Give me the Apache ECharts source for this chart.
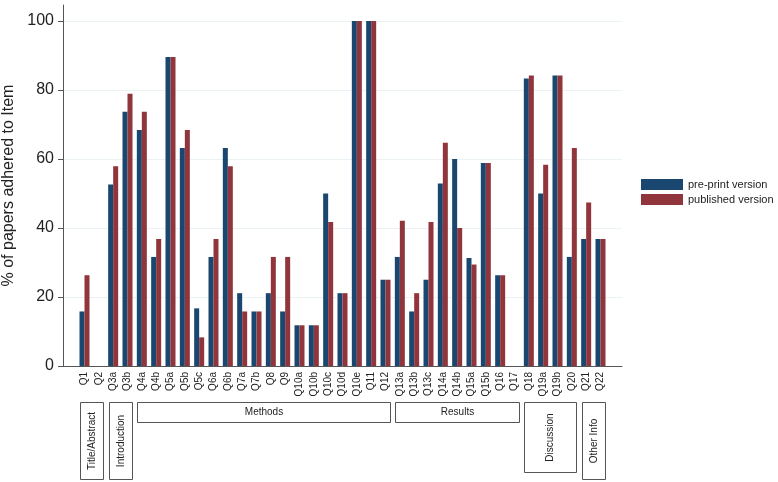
<!DOCTYPE html>
<html>
<head>
<meta charset="utf-8">
<title>Adherence per item</title>
<script src="https://cdn.jsdelivr.net/npm/echarts@6.0.0/dist/echarts.min.js"></script>
<style>
  html, body { margin: 0; padding: 0; background: #fff; }
  #chart { width: 778px; height: 482px; }
</style>
</head>
<body>
<div id="chart"></div>
<script>
// checklist items (x axis)
const categories = ['Q1', 'Q2', 'Q3a', 'Q3b', 'Q4a', 'Q4b', 'Q5a', 'Q5b', 'Q5c', 'Q6a', 'Q6b',
  'Q7a', 'Q7b', 'Q8', 'Q9', 'Q10a', 'Q10b', 'Q10c', 'Q10d', 'Q10e', 'Q11', 'Q12',
  'Q13a', 'Q13b', 'Q13c', 'Q14a', 'Q14b', 'Q15a', 'Q15b', 'Q16', 'Q17',
  'Q18', 'Q19a', 'Q19b', 'Q20', 'Q21', 'Q22']

// % of papers adhered to each item
const preprint = [15.8, 0, 52.6, 73.7, 68.4, 31.6, 89.5, 63.2, 16.7, 31.6, 63.2,
  21.1, 15.8, 21.1, 15.8, 11.8, 11.8, 50.0, 21.1, 100, 100, 25.0,
  31.6, 15.8, 25.0, 52.9, 60.0, 31.3, 58.8, 26.3, 0,
  83.3, 50.0, 84.2, 31.6, 36.8, 36.8]
const published = [26.3, 0, 57.9, 78.9, 73.7, 36.8, 89.5, 68.4, 8.3, 36.8, 57.9,
  15.8, 15.8, 31.6, 31.6, 11.8, 11.8, 41.7, 21.1, 100, 100, 25.0,
  42.1, 21.1, 41.7, 64.7, 40.0, 29.4, 58.8, 26.3, 0,
  84.2, 58.3, 84.2, 63.2, 47.4, 36.8]

const seriesNames = ['pre-print version', 'published version']
const yTicks = [0, 20, 40, 60, 80, 100]

// report sections under the axis
const groupNames = ['Title/Abstract', 'Introduction', 'Methods', 'Results', 'Discussion', 'Other Info']
const groupFirst = ['Q1', 'Q3a', 'Q4a', 'Q13a', 'Q18', 'Q21']
const groupLast = ['Q2', 'Q3b', 'Q12', 'Q17', 'Q20', 'Q22']

const FONT = '"Liberation Sans", Arial, Helvetica, sans-serif'
const NAVY = '#1a476f'
const MAROON = '#90353b'
const AXIS = '#555'

const chart = echarts.init(document.getElementById('chart'))

// one empty slot each side gives the outer gap of the original
const axisCats = [''].concat(categories, [''])
const pad = arr => [null].concat(arr, [null])

chart.setOption({
  animation: false,
  backgroundColor: '#fff',
  textStyle: { fontFamily: FONT },
  grid: { left: 63, top: 5, width: 559, bottom: 116, containLabel: false, outerBoundsMode: 'none' },
  legend: {
    data: seriesNames,
    orient: 'vertical',
    left: 641,
    top: 179,
    padding: 0,
    icon: 'rect',
    itemWidth: 42,
    itemHeight: 11,
    itemGap: 4,
    textStyle: { fontSize: 11, color: '#222', fontFamily: FONT, lineHeight: 11 }
  },
  xAxis: {
    type: 'category',
    data: axisCats,
    axisLine: { lineStyle: { color: AXIS, width: 1 } },
    axisTick: { show: false },
    axisLabel: { rotate: 90, interval: 0, fontSize: 10, color: '#222', margin: 6, fontFamily: FONT }
  },
  yAxis: {
    type: 'value',
    min: 0,
    max: 104.6,
    interval: 20,
    name: '% of papers adhered to Item',
    nameLocation: 'middle',
    nameRotate: 90,
    nameGap: 46,
    nameTextStyle: { fontSize: 16, color: '#222', fontFamily: FONT },
    axisLine: { show: true, lineStyle: { color: AXIS, width: 1 } },
    axisTick: { show: true, length: 5, customValues: yTicks, lineStyle: { color: AXIS } },
    axisLabel: { customValues: yTicks, fontSize: 16, color: '#222', margin: 9, fontFamily: FONT },
    splitLine: { show: true, showMinLine: false, lineStyle: { color: '#eaf2f3', width: 1 } }
  },
  series: [
    {
      name: seriesNames[0],
      type: 'bar',
      data: pad(preprint),
      barWidth: 5,
      barGap: '0%',
      itemStyle: { color: NAVY }
    },
    {
      name: seriesNames[1],
      type: 'bar',
      data: pad(published),
      barWidth: 5,
      itemStyle: { color: MAROON }
    }
  ]
})

// section boxes, placed from the category scale
const BOX_TOP = 402
const boxes = []
groupNames.forEach((name, i) => {
  const x0 = chart.convertToPixel({ xAxisIndex: 0 }, groupFirst[i]) - 4.5
  const x1 = chart.convertToPixel({ xAxisIndex: 0 }, groupLast[i]) + 4.5
  const vertical = (x1 - x0) < 60
  const h = vertical ? (name === 'Discussion' ? 70 : 77) : 20
  const left = Math.round(x0) + 0.5
  const w = Math.round(x1 - x0)
  boxes.push({
    type: 'rect',
    shape: { x: left, y: BOX_TOP + 0.5, width: w, height: h },
    style: { fill: '#fff', stroke: AXIS, lineWidth: 1 }
  })
  boxes.push({
    type: 'text',
    x: left + w / 2,
    y: BOX_TOP + h / 2 + 0.5,
    rotation: vertical ? Math.PI / 2 : 0,
    style: {
      text: name,
      fill: '#222',
      fontSize: 10,
      fontFamily: FONT,
      align: 'center',
      verticalAlign: 'middle'
    }
  })
})
chart.setOption({ graphic: boxes })
</script>
</body>
</html>
